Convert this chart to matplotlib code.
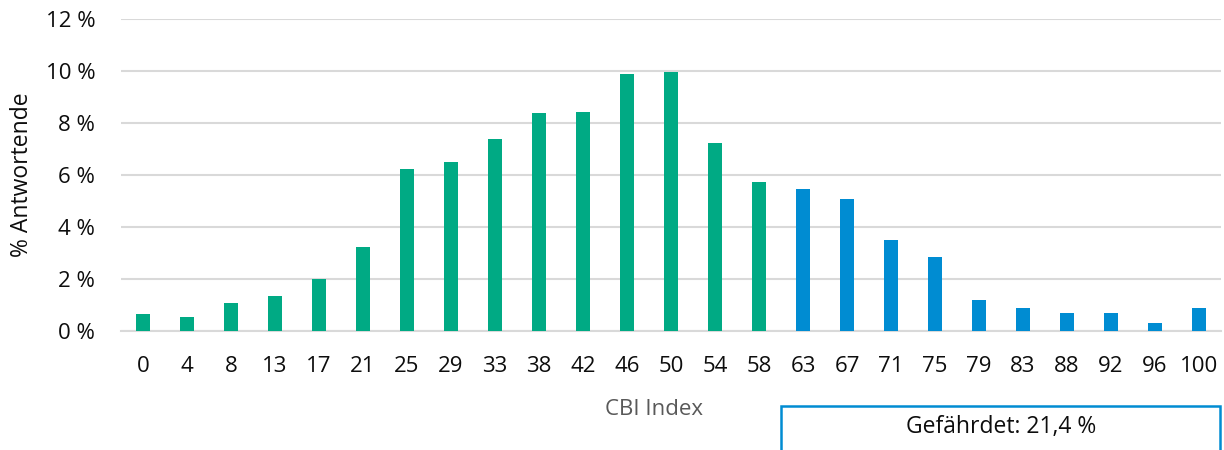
import matplotlib.pyplot as plt
from matplotlib.patches import Rectangle
from matplotlib.ticker import FuncFormatter

# CBI-Index Kategorien und Anteile der Antwortenden (%)
kategorien = ['0', '4', '8', '13', '17', '21', '25', '29', '33', '38', '42', '46', '50',
              '54', '58', '63', '67', '71', '75', '79', '83', '88', '92', '96', '100']
anteile = [0.65, 0.54, 1.07, 1.34, 1.99, 3.22, 6.24, 6.49, 7.39, 8.38, 8.45, 9.89, 9.96,
           7.23, 5.72, 5.46, 5.08, 3.50, 2.85, 1.19, 0.89, 0.69, 0.69, 0.31, 0.89]
grenze = 58  # ab > 58 gefährdet
gefaehrdet_text = 'Gefährdet: 21,4 %'

gruen = '#00AA84'
blau = '#008CD2'
schrift = 16

plt.rcParams['font.family'] = ['Open Sans', 'DejaVu Sans']

W, H = 1224, 450
fig = plt.figure(figsize=(W / 100, H / 100), dpi=100)
ax = fig.add_axes([121 / W, 1 - 331 / H, 1100 / W, (331 - 19.3) / H])

farben = [blau if int(k) > grenze else gruen for k in kategorien]
x = range(len(kategorien))
ax.bar(x, anteile, width=0.32, color=farben, zorder=3)

ax.set_xlim(-0.5, len(kategorien) - 0.5)
ax.set_ylim(0, 12)
ax.set_yticks(range(0, 13, 2))
ax.yaxis.set_major_formatter(FuncFormatter(lambda v, p: f'{int(v)} %'))
ax.set_xticks(list(x))
ax.set_xticklabels(kategorien)
ax.tick_params(axis='both', length=0, labelsize=schrift, colors='#0d0d0d')
ax.tick_params(axis='x', pad=18)
ax.tick_params(axis='y', pad=18.5)
ax.grid(axis='y', color='#d9d9d9', linewidth=1.5, zorder=0)
for s in ['top', 'right', 'left']:
    ax.spines[s].set_visible(False)
ax.spines['bottom'].set_color('#d9d9d9')
ax.spines['bottom'].set_linewidth(1.5)

fig.text(22 / W, 1 - 175 / H, '% Antwortende', fontsize=schrift + 0.5, color='#0d0d0d',
         rotation=90, ha='center', va='center')
fig.text(654 / W, 1 - 415 / H, 'CBI Index', fontsize=schrift, color='#595959',
         ha='center', va='baseline')

# Kasten unten rechts
box = Rectangle((781 / W, 1 - 470 / H), (1220 - 781) / W, (470 - 406) / H,
                transform=fig.transFigure, facecolor='white', edgecolor=blau,
                linewidth=1.8, clip_on=False)
fig.patches.append(box)
fig.text(1001 / W, 1 - 433 / H, gefaehrdet_text, fontsize=schrift + 0.5, color='#0d0d0d',
         ha='center', va='baseline')

fig.savefig('out.png', dpi=100)
